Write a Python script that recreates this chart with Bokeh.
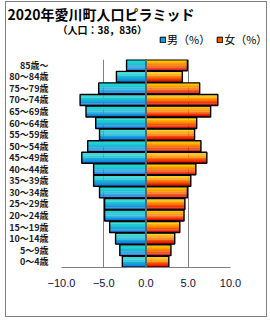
from bokeh.plotting import figure
from bokeh.models import (FactorRange, Range1d, Legend, LegendItem, FixedTicker, Label,
                          CustomJSTickFormatter, ColumnDataSource, Span)
from bokeh.layouts import column
from bokeh.transform import dodge
from bokeh.embed import file_html
from bokeh.resources import INLINE

# ---- data ----
ages = ["0～4歳", "5～9歳", "10～14歳", "15～19歳", "20～24歳", "25～29歳",
        "30～34歳", "35～39歳", "40～44歳", "45～49歳", "50～54歳", "55～59歳",
        "60～64歳", "65～69歳", "70～74歳", "75～79歳", "80～84歳", "85歳～"]
male = [2.8, 3.1, 3.6, 4.3, 4.9, 4.9, 5.5, 6.2, 6.2, 7.6, 6.9, 5.5,
        5.95, 7.1, 7.8, 5.6, 3.5, 2.3]
female = [2.7, 2.95, 3.4, 4.0, 4.5, 4.6, 4.9, 5.3, 5.9, 7.2, 6.5, 5.75,
          6.0, 7.65, 8.5, 6.35, 4.3, 4.9]
x_ticks = [-10, -5, 0, 5, 10]
title_text = "2020年愛川町人口ピラミッド"
subtitle_text = "（人口：38，836）"
series_names = ["男（%）", "女（%）"]

JP = "Noto Sans CJK JP"
W = 260
HEAD_H = 47
MAIN_H = 267


def lerp(c1, c2, t):
    return "#%02x%02x%02x" % tuple(int(round(a + (b - a) * t)) for a, b in zip(c1, c2))


male_top, male_bot = (0x20, 0xD8, 0xD0), (0x10, 0x74, 0xE2)
fem_top, fem_mid, fem_bot = (0xFF, 0xD8, 0x00), (0xFF, 0x80, 0x00), (0xDC, 0x00, 0x00)

# ---- header: title, subtitle, legend ----
head = figure(width=W, height=HEAD_H, x_range=Range1d(0, W), y_range=Range1d(0, HEAD_H),
              output_backend="svg", toolbar_location=None,
              min_border=0, min_border_left=0, min_border_right=0,
              min_border_top=0, min_border_bottom=0)
head.axis.visible = False
head.grid.visible = False
head.outline_line_color = None
head.border_fill_color = "white"
head.frame_align = False

head.add_layout(Label(x=1, y=36, text=title_text, text_font=JP, text_font_size="14px",
                      text_font_style="bold", text_baseline="middle", text_color="black"))
head.add_layout(Label(x=51, y=20, text=subtitle_text, text_font=JP, text_font_size="10px",
                      text_font_style="bold", text_baseline="middle", text_color="black"))

# legend swatches (kept outside the visible header range; only their legend icons show)
lm = head.hbar(y=[-100], left=[0], right=[1], height=0.5,
               fill_color=lerp(male_top, male_bot, 0.6), line_color="black", line_width=1)
lf = head.hbar(y=[-100], left=[0], right=[1], height=0.5,
               fill_color=lerp(fem_mid, fem_bot, 0.3), line_color="black", line_width=1)
legend = Legend(items=[LegendItem(label=series_names[0], renderers=[lm]),
                       LegendItem(label=series_names[1], renderers=[lf])],
                orientation="horizontal", location=(153, 2),
                border_line_color=None, background_fill_alpha=0,
                label_text_font=JP, label_text_font_size="11px", label_text_color="black",
                glyph_width=7, glyph_height=7, label_standoff=1, spacing=6,
                padding=0, margin=0, label_height=12)
head.add_layout(legend, "center")

# ---- main pyramid ----
src = ColumnDataSource(dict(age=ages, male=[-v for v in male], female=female))

p = figure(width=W, height=MAIN_H, y_range=FactorRange(*ages), x_range=Range1d(-10, 10),
           output_backend="svg", toolbar_location=None, title=None,
           min_border_left=54, min_border_right=36, min_border_top=10, min_border_bottom=49)
p.outline_line_color = None
p.background_fill_color = "white"
p.border_fill_color = "white"
p.frame_align = False

h = 0.95
K = 10
for i in range(K):
    off = h / 2 - (i + 0.5) * h / K
    t = i / (K - 1)
    cm = lerp(male_top, male_bot, t ** 1.6)
    cf = lerp(fem_top, fem_mid, t * 2) if t < 0.5 else lerp(fem_mid, fem_bot, (t - 0.5) * 2)
    p.hbar(y=dodge("age", off, range=p.y_range), left="male", right=0, height=h / K * 1.15,
           fill_color=cm, line_color=None, source=src)
    p.hbar(y=dodge("age", off, range=p.y_range), left=0, right="female", height=h / K * 1.15,
           fill_color=cf, line_color=None, source=src)

p.hbar(y="age", left="male", right=0, height=h, fill_color=None,
       line_color="black", line_width=1.4, source=src)
p.hbar(y="age", left=0, right="female", height=h, fill_color=None,
       line_color="black", line_width=1.4, source=src)

p.add_layout(Span(location=0, dimension="height", line_color="#808080", line_width=1.5))

p.xaxis.ticker = FixedTicker(ticks=x_ticks)
p.xaxis.formatter = CustomJSTickFormatter(
    code="return (tick < 0 ? '\u2212' : '') + Math.abs(tick).toFixed(1);")
p.xaxis.axis_line_color = "#808080"
p.xaxis.major_tick_line_color = None
p.xaxis.minor_tick_line_color = None
p.xaxis.major_label_standoff = 5
p.xaxis.major_label_text_font = "Liberation Sans"
p.xaxis.major_label_text_font_size = "11px"
p.xaxis.major_label_text_color = "#10103a"

p.yaxis.axis_line_color = None
p.yaxis.major_tick_line_color = None
p.yaxis.minor_tick_line_color = None
p.yaxis.major_label_standoff = 7
p.yaxis.major_label_text_font = JP
p.yaxis.major_label_text_font_style = "bold"
p.yaxis.major_label_text_font_size = "9px"
p.yaxis.major_label_text_color = "#1a1a1a"

p.xgrid.ticker = FixedTicker(ticks=x_ticks)
p.xgrid.grid_line_color = "#808080"
p.ygrid.grid_line_color = None

layout = column(head, p, spacing=0)
layout.styles = {"margin-left": "5px", "margin-top": "1px", "border": "1px solid #808080",
                 "background-color": "white"}

open("out.html", "w").write(file_html(layout, INLINE))
